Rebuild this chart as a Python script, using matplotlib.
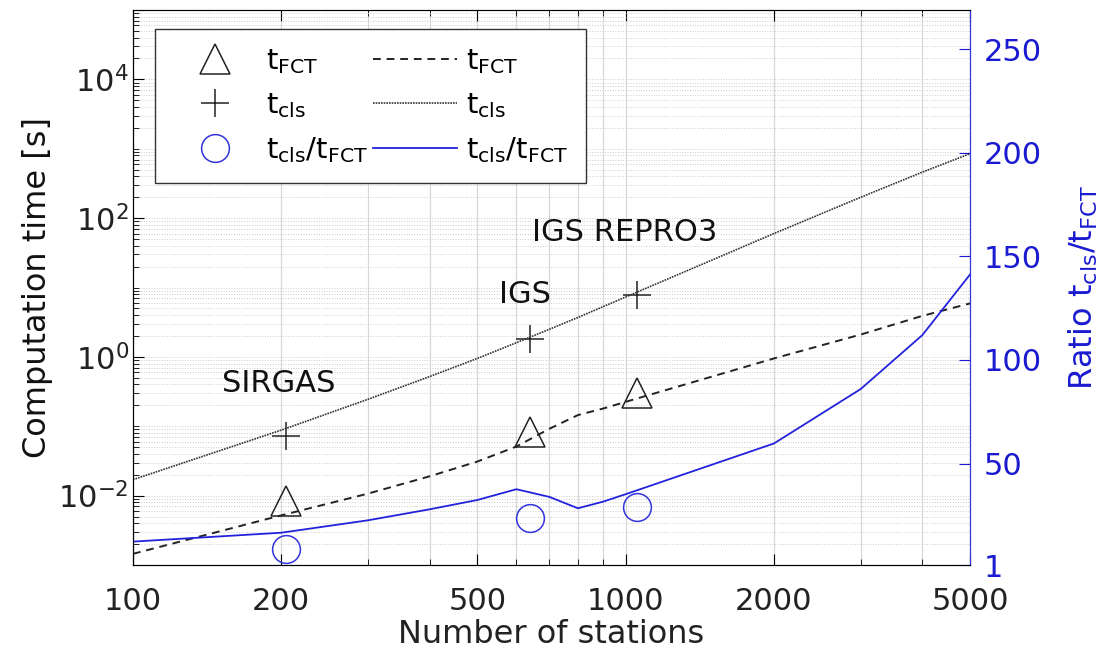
import matplotlib.pyplot as plt
import matplotlib.ticker as mticker
import numpy as np

plt.rcParams['font.family'] = 'DejaVu Sans'
plt.rcParams['mathtext.default'] = 'regular'

# lines (model curves)
n_line = [100, 200, 300, 400, 500, 600, 700, 800, 900, 1000, 2000, 3000, 4000, 5000]
t_fct_line = [0.00145, 0.0052, 0.0107, 0.019, 0.031, 0.051, 0.092, 0.145, 0.18, 0.225, 0.95, 2.1, 3.9, 5.9]
t_cls_line = [0.017, 0.088, 0.245, 0.52, 0.95, 1.6, 2.5, 3.7, 5.3, 7.3, 60, 200, 460, 850]
ratio_line = [12.3, 16.6, 22.6, 27.9, 32.4, 37.6, 33.9, 28.4, 31.6, 35.2, 59.7, 86, 112, 141.3]

# measured networks
n_pts = [204, 640, 1055]
t_fct_pts = [0.0085, 0.083, 0.30]
t_cls_pts = [0.073, 1.8, 7.7]
ratio_pts = [8.9, 23.9, 29.0]
net_names = ['SIRGAS', 'IGS', 'IGS REPRO3']
name_pos = [(198, 0.41), (625, 7.9), (995, 63)]

fig = plt.figure(figsize=(11.08, 6.58), dpi=100)
ax = fig.add_axes([0.12, 0.1413, 0.7555, 0.8435])
ax2 = ax.twinx()

h1, = ax.plot(n_pts, t_fct_pts, '^', ms=22, mfc='none', mec='#222222', mew=1.1, label='$t_{FCT}$')
h2, = ax.plot(n_pts, t_cls_pts, '+', ms=20, mec='#222222', mew=1.1, label='$t_{cls}$')
h4, = ax.plot(n_line, t_fct_line, '--', color='#222222', lw=1.4, dashes=(4, 3), label='$t_{FCT}$')
h5, = ax.plot(n_line, t_cls_line, ':', color='#333333', lw=1.2, dashes=(1, 0.6), label='$t_{cls}$')
h3, = ax2.plot(n_pts, ratio_pts, 'o', ms=20, mfc='none', mec='#3333dd', mew=1.1, label='$t_{cls}/t_{FCT}$')
h6, = ax2.plot(n_line, ratio_line, '-', color='#2222dd', lw=1.3, label='$t_{cls}/t_{FCT}$')

for name, (px, py) in zip(net_names, name_pos):
    ax.text(px, py, name, fontsize=22, ha='center', va='center', color='#111111')

ax.set_xscale('log')
ax.set_yscale('log')
ax.set_xlim(100, 5000)
ax.set_ylim(1e-3, 1e5)
ax.set_xticks([100, 200, 500, 1000, 2000, 5000])
ax.xaxis.set_major_formatter(mticker.FormatStrFormatter('%d'))
ax.xaxis.set_minor_locator(mticker.FixedLocator([300, 400, 600, 700, 800, 900, 3000, 4000]))
ax.xaxis.set_minor_formatter(mticker.NullFormatter())
ax.set_yticks([1e-2, 1, 1e2, 1e4])
ax.yaxis.set_minor_locator(mticker.LogLocator(base=10, subs=np.arange(1, 10), numticks=30))
ax.yaxis.set_minor_formatter(mticker.NullFormatter())

ax.tick_params(axis='both', which='major', direction='in', length=8, top=True,
               labelcolor='#222222')
ax.tick_params(axis='both', which='minor', direction='in', length=4, top=True)
ax.tick_params(axis='x', which='major', pad=16, labelsize=22)
ax.tick_params(axis='y', which='major', pad=3, labelsize=22)
ax.grid(True, which='major', axis='x', color='#d8d8d8', lw=0.9)
ax.grid(True, which='minor', axis='x', color='#d8d8d8', lw=0.9)
ax.grid(True, which='both', axis='y', color='#cccccc', lw=0.7, ls=':')

ax.set_xlabel('Number of stations', fontsize=23, color='#222222', labelpad=2)
ax.set_ylabel('Computation time [s]', fontsize=23, color='#111111')

ax2.set_ylim(1, 269)
ax2.set_yticks([1, 50, 100, 150, 200, 250])
ax2.tick_params(axis='y', direction='in', colors='#1a1ad0', labelsize=22, length=8, pad=10)
ax2.spines['right'].set_color('#3333ee')
ax2.set_ylabel('Ratio $t_{cls}/t_{FCT}$', fontsize=23, color='#1a1ad0', labelpad=18)

leg = ax2.legend(handles=[h1, h2, h3, h4, h5, h6], ncol=2, loc='upper left',
                 bbox_to_anchor=(0.026, 0.966), borderaxespad=0, fontsize=21, frameon=True,
                 fancybox=False, edgecolor='#333333', framealpha=1, columnspacing=0.15,
                 handlelength=2.9, handletextpad=0.3, labelspacing=0.52, borderpad=0.62)
leg.get_frame().set_linewidth(1.0)

fig.savefig('out.png', dpi=100)
